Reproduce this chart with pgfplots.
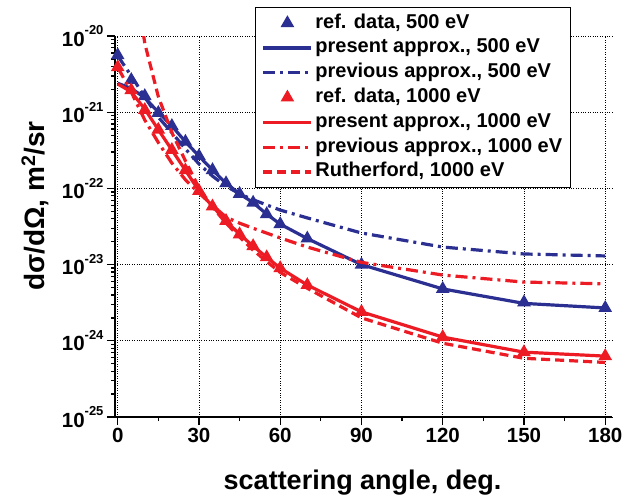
\documentclass[border=0pt]{standalone}
\usepackage{fontspec}
\setmainfont{Liberation Sans}
\usepackage{pgfplots}
\pgfplotsset{compat=1.18}
\definecolor{myblue}{RGB}{43,47,145}
\definecolor{myred}{RGB}{237,28,36}
\newcommand{\ex}[1]{10\raisebox{0.55em}{\fontsize{13}{13}\selectfont #1}}
\begin{document}
\begin{tikzpicture}[x=1pt,y=1pt]
\path[use as bounding box] (0,0) rectangle (636,498);
\begin{axis}[
  at={(115pt,81pt)}, anchor=south west,
  width=497pt, height=381pt, scale only axis,
  xmin=-1, xmax=182.5, ymin=1e-25, ymax=1e-20, ymode=log,
  axis lines*=left,
  axis line style={line width=1.6pt, black},
  xtick={0,30,...,180}, minor xtick={15,45,...,165},
  ytick={1e-25,1e-24,1e-23,1e-22,1e-21,1e-20},
  yticklabels={\ex{-25},\ex{-24},\ex{-23},\ex{-22},\ex{-21},\ex{-20}},
  tick align=outside, major tick length=8pt, minor tick length=4pt,
  tick style={black, line width=1.3pt},
  grid=major, major grid style={dotted, black, line width=0.8pt},
  x tick label style={font=\fontsize{20.5}{20}\selectfont\bfseries},
  y tick label style={font=\fontsize{20.5}{20}\selectfont\bfseries},
  /pgf/number format/assume math mode=true,
  xlabel={scattering angle, deg.},
  xlabel style={font=\fontsize{27}{27}\selectfont\bfseries, at={(axis description cs:0.498,-0.171)}, anchor=center},
  ylabel={dσ/dΩ, m\textsuperscript{2}/sr},
  ylabel style={font=\fontsize{28}{28}\selectfont\bfseries, at={(axis description cs:-0.161,0.554)}, anchor=center},
  clip mode=individual,
  legend style={at={(rel axis cs:0.918,1.076)}, anchor=north east, draw=black, line width=1.3pt,
    font=\fontsize{20}{22}\selectfont\bfseries,
    nodes={text height=15pt, text depth=5pt, inner sep=2.4pt},
    inner xsep=6pt, inner ysep=3pt},
  legend cell align=left,
  legend image code/.code={\draw[mark repeat=2,mark phase=2,#1] plot coordinates {(0pt,0pt) (24pt,0pt) (48pt,0pt)};},
]
% ref data 500 eV
\addplot[only marks, mark=triangle*, mark size=6.4pt, color=myblue, mark options={solid, line width=1.5pt}] coordinates {
(0,5.6e-21) (5,2.65e-21) (10,1.63e-21) (15,9.8e-22) (20,6.6e-22) (25,4.1e-22) (30,2.66e-22)
(35,1.74e-22) (40,1.17e-22) (45,8.5e-23) (50,6.5e-23) (55,4.6e-23) (60,3.4e-23) (70,2.2e-23)
(90,1.0e-23) (120,4.8e-24) (150,3.2e-24) (180,2.7e-24)};
\addlegendentry{ref. data, 500 eV}
% present approx 500 eV
\addplot[myblue, solid, line width=3.2pt, no markers] coordinates {
(0,2.4e-21) (5,2.05e-21) (10,1.55e-21) (15,1.0e-21) (20,6.6e-22) (25,4.1e-22) (30,2.66e-22)
(35,1.74e-22) (40,1.17e-22) (45,8.5e-23) (50,6.5e-23) (55,4.6e-23) (60,3.4e-23) (70,2.2e-23)
(90,1.0e-23) (120,4.8e-24) (150,3.1e-24) (180,2.7e-24)};
\addlegendentry{present approx., 500 eV}
% previous approx 500 eV
\addplot[myblue, line width=3.2pt, dash pattern=on 12pt off 5pt on 3pt off 5pt, no markers] coordinates {
(0,5.5e-21) (5,3.0e-21) (10,1.58e-21) (15,8.6e-22) (20,5.4e-22) (25,3.3e-22) (30,2.1e-22)
(35,1.45e-22) (40,1.07e-22) (45,8.5e-23) (50,7.1e-23) (60,5.2e-23) (70,4.1e-23)
(90,2.6e-23) (120,1.7e-23) (150,1.38e-23) (180,1.3e-23)};
\addlegendentry{previous approx., 500 eV}
% ref data 1000 eV
\addplot[only marks, mark=triangle*, mark size=6.4pt, color=myred, mark options={solid, line width=1.5pt}] coordinates {
(0,3.9e-21) (5,1.95e-21) (10,1.07e-21) (15,5.9e-22) (20,3.2e-22) (25,1.73e-22) (30,9.3e-23)
(35,5.8e-23) (40,3.75e-23) (45,2.5e-23) (50,1.75e-23) (55,1.25e-23) (60,9.0e-24) (70,5.4e-24)
(90,2.4e-24) (120,1.12e-24) (150,7.1e-25) (180,6.3e-25)};
\addlegendentry{ref. data, 1000 eV}
% present approx 1000 eV
\addplot[myred, solid, line width=3.2pt, no markers] coordinates {
(0,2.35e-21) (5,1.85e-21) (10,1.1e-21) (15,5.9e-22) (20,3.2e-22) (25,1.73e-22) (30,9.3e-23)
(35,5.8e-23) (40,3.75e-23) (45,2.5e-23) (50,1.75e-23) (55,1.25e-23) (60,9.0e-24) (70,5.4e-24)
(90,2.4e-24) (120,1.12e-24) (150,7.1e-25) (180,6.3e-25)};
\addlegendentry{present approx., 1000 eV}
% previous approx 1000 eV
\addplot[myred, line width=3.2pt, dash pattern=on 12pt off 5pt on 3pt off 5pt, no markers] coordinates {
(0,3.9e-21) (5,1.84e-21) (10,7.9e-22) (15,4.0e-22) (20,2.15e-22) (25,1.3e-22) (30,8.7e-23)
(35,6.0e-23) (40,4.2e-23) (45,3.5e-23) (50,3.0e-23) (60,2.24e-23) (70,1.7e-23)
(90,1.07e-23) (120,7.3e-24) (150,5.9e-24) (180,5.6e-24)};
\addlegendentry{previous approx., 1000 eV}
% Rutherford 1000 eV
\addplot[myred, line width=3.2pt, dash pattern=on 9pt off 5pt, no markers] coordinates {
(5,1.3e-19) (10,8.0e-21) (15,1.6e-21) (20,5.4e-22) (25,2.3e-22) (30,1.02e-22) (35,5.7e-23)
(40,3.5e-23) (45,2.3e-23) (50,1.55e-23) (55,1.1e-23) (60,7.9e-24) (70,4.9e-24)
(90,2.0e-24) (120,9.3e-25) (150,5.9e-25) (180,5.2e-25)};
\addlegendentry{Rutherford, 1000 eV}
\end{axis}
\end{tikzpicture}
\end{document}
